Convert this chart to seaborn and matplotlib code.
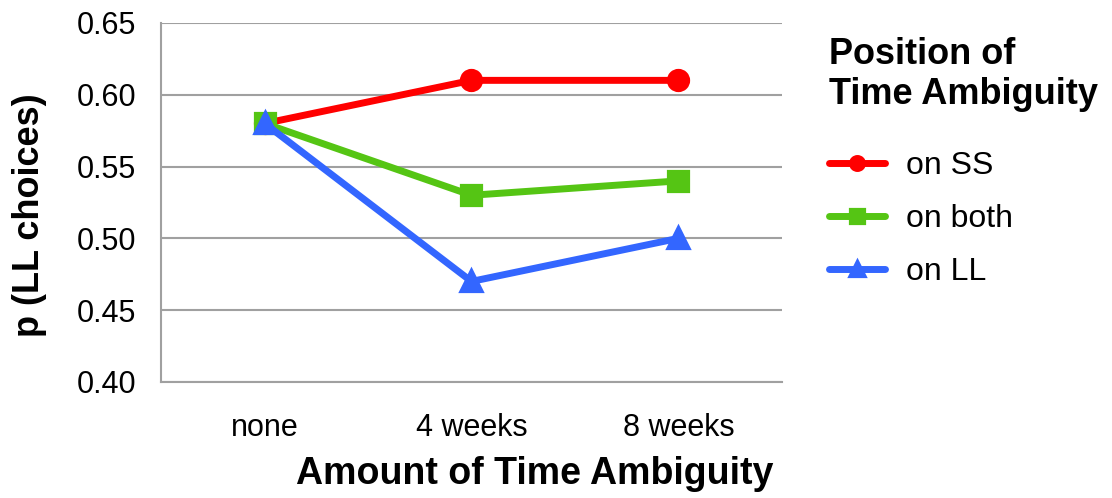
import matplotlib
matplotlib.use("Agg")
import matplotlib.pyplot as plt
import seaborn as sns
import pandas as pd

categories = ["none", "4 weeks", "8 weeks"]
series_names = ["on SS", "on both", "on LL"]
on_ss = [0.58, 0.61, 0.61]
on_both = [0.58, 0.53, 0.54]
on_ll = [0.58, 0.47, 0.50]
y_ticks = [0.40, 0.45, 0.50, 0.55, 0.60, 0.65]

colors = ["#FF0000", "#55C514", "#3366FF"]
markers = ["o", "s", "^"]

rows = []
for name, vals in zip(series_names, [on_ss, on_both, on_ll]):
    for c, v in zip(categories, vals):
        rows.append({"amount": c, "p": v, "position": name})
df = pd.DataFrame(rows)

sns.set_theme(style="white")
plt.rcParams["font.family"] = ["Liberation Sans", "DejaVu Sans"]
plt.rcParams["text.color"] = "black"
plt.rcParams["axes.labelcolor"] = "black"

fig = plt.figure(figsize=(11.12, 4.98), dpi=100)
ax = fig.add_axes([0.145, 0.233, 0.558, 0.721])

sns.pointplot(data=df, x="amount", y="p", hue="position", order=categories,
              hue_order=series_names, palette=colors, markers=markers,
              linestyles=["-", "-", "-"], errorbar=None, ax=ax,
              linewidth=5, markersize=13)

ax.set_xlim(-0.5, 2.5)
ax.set_ylim(0.40, 0.65)
ax.set_yticks(y_ticks)
ax.set_yticklabels([f"{t:.2f}" for t in y_ticks])
ax.yaxis.grid(True, color="#A0A0A0", linewidth=1.5)
ax.set_axisbelow(True)
for s in ["top", "right"]:
    ax.spines[s].set_visible(False)
for s in ["left", "bottom"]:
    ax.spines[s].set_color("#A0A0A0")
    ax.spines[s].set_linewidth(1.5)
ax.tick_params(axis="both", length=0, labelsize=22, colors="#000000")
ax.tick_params(axis="y", pad=18)
ax.tick_params(axis="x", pad=22)
ax.set_xlabel("Amount of Time Ambiguity", fontsize=27, fontweight="bold")
ax.set_ylabel("p (LL choices)", fontsize=26, fontweight="bold")
ax.xaxis.set_label_coords(0.602, -0.207)
ax.yaxis.set_label_coords(-0.184, 0.465)

handles, labels = ax.get_legend_handles_labels()
if ax.get_legend() is not None:
    ax.get_legend().remove()
leg = ax.legend(handles, labels, title="Position of\nTime Ambiguity",
                loc="upper left", bbox_to_anchor=(0.737, 0.945),
                bbox_transform=fig.transFigure, frameon=False,
                fontsize=23, title_fontproperties={"size": 26, "weight": "bold"},
                handlelength=1.75, handletextpad=0.65, labelspacing=0.72,
                markerscale=0.65, borderaxespad=0, borderpad=0.3)
leg._legend_box.align = "left"
leg._legend_box.sep = 28

fig.savefig("out.png", dpi=100)
